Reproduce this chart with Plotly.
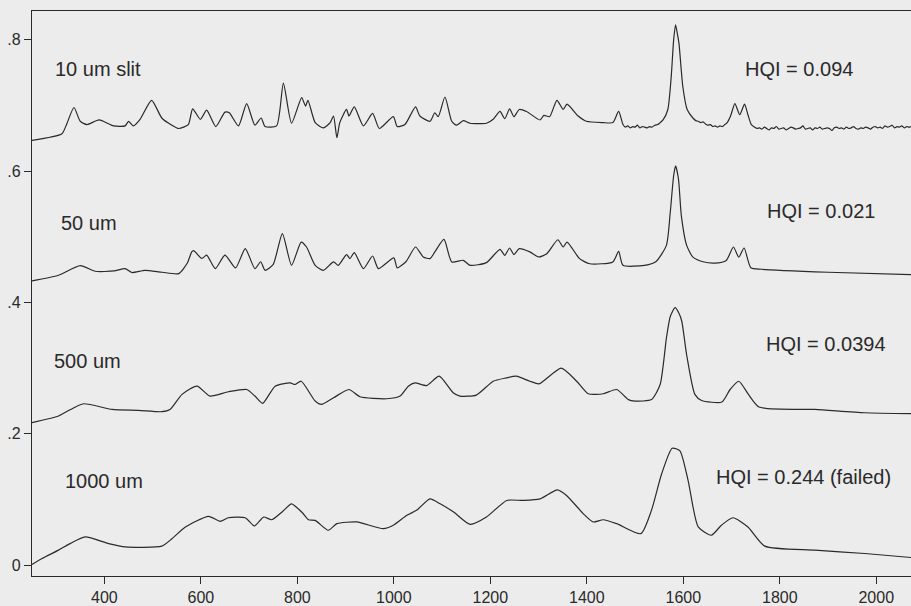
import plotly.graph_objects as go

# ---------------- data ----------------
x_10um = [250, 312, 322, 337, 350, 364, 389, 419, 443, 450, 460, 474, 498, 519, 540, 554, 574, 583, 599, 612,
          631, 650, 659, 678, 695, 712, 725, 733, 757, 771, 788, 809, 817, 822, 837, 854, 868, 875, 882, 888,
          902, 907, 918, 937, 956, 970, 999, 1007, 1023, 1045, 1054, 1075, 1085, 1092, 1106, 1120, 1130, 1144,
          1158, 1192, 1206, 1220, 1230, 1240, 1249, 1260, 1275, 1303, 1311, 1323, 1338, 1351, 1359, 1382, 1399,
          1434, 1454, 1466, 1475, 1480, 1485, 1490, 1495, 1500, 1505, 1510, 1515, 1520, 1525, 1530, 1535, 1541,
          1547, 1552, 1558, 1568, 1575, 1580, 1584, 1588, 1591, 1599, 1608, 1620, 1626, 1631, 1636, 1641, 1646,
          1651, 1656, 1661, 1666, 1671, 1676, 1681, 1686, 1691, 1698, 1707, 1717, 1727, 1734, 1741,
          1748, 1753, 1758, 1763, 1768, 1773, 1778, 1783, 1788, 1793,
          1798, 1803, 1808, 1813, 1818, 1823, 1828, 1833, 1838, 1843,
          1848, 1853, 1858, 1863, 1868, 1873, 1878, 1883, 1888, 1893,
          1898, 1903, 1908, 1913, 1918, 1923, 1928, 1933, 1938, 1943,
          1948, 1953, 1958, 1963, 1968, 1973, 1978, 1983, 1988, 1993,
          1998, 2003, 2008, 2013, 2018, 2023, 2028, 2033, 2038, 2043,
          2048, 2053, 2058, 2063, 2068, 2072]
y_10um = [.647, .657, .672, .697, .676, .671, .678, .669, .669, .676, .669, .679, .708, .681, .670, .665, .671, .695, .679, .693,
          .668, .690, .689, .669, .703, .670, .681, .668, .669, .734, .673, .712, .699, .708, .674, .666, .674, .684, .651, .674,
          .694, .684, .698, .669, .688, .665, .683, .668, .671, .698, .684, .676, .689, .683, .713, .676, .670, .677,
          .673, .673, .679, .691, .680, .695, .683, .694, .691, .678, .685, .683, .708, .694, .702, .684, .676,
          .674, .674, .691, .671, .667, .669, .666, .668, .667, .670, .666, .668, .667, .666, .668, .667, .670,
          .671, .674, .678, .694, .744, .800, .823, .808, .795, .729, .694, .681, .677, .676, .674, .675, .672,
          .670, .671, .668, .669, .667, .669, .668, .671, .674, .684, .703, .686, .702, .686, .671,
          .667, .665, .666, .664, .667, .665, .663, .666, .665, .668,
          .664, .665, .666, .663, .665, .667, .666, .664, .665, .666,
          .669, .664, .665, .666, .663, .666, .665, .667, .664, .665,
          .666, .665, .662, .666, .667, .665, .666, .664, .667, .665,
          .666, .668, .665, .664, .666, .665, .667, .666, .664, .667,
          .668, .666, .667, .665, .669, .667, .668, .670, .666, .668,
          .667, .669, .666, .668, .667, .668]

x_50um = [250, 305, 350, 381, 420, 443, 457, 484, 520, 554, 572, 581, 585, 602, 612, 630, 650, 672, 692, 712,
          724, 733, 750, 769, 788, 808, 819, 837, 854, 875, 885, 902, 909, 918, 937, 956, 968, 1000, 1007, 1025,
          1045, 1061, 1075, 1085, 1104, 1120, 1144, 1158, 1192, 1220, 1230, 1240, 1249, 1260, 1282, 1300, 1317,
          1340, 1351, 1359, 1385, 1406, 1454, 1466, 1475, 1520, 1543, 1565, 1573, 1580, 1584, 1590, 1596, 1607,
          1620, 1641, 1665, 1689, 1704, 1715, 1726, 1740, 1762, 1900, 2072]
y_50um = [.433, .4415, .456, .4475, .448, .4516, .4456, .449, .446, .444, .460, .477, .479, .467, .472, .4516, .472, .4527, .482, .4516,
          .462, .449, .458, .505, .4566, .492, .4845, .4566, .449, .4618, .4566, .473, .4668, .476, .4516, .4708, .4516, .468, .4527, .462,
          .4845, .4693, .4668, .477, .496, .4618, .4642, .4566, .4607, .481, .4718, .483, .473, .482, .477, .4693, .4743,
          .4955, .4845, .492, .4668, .459, .4618, .4778, .4566, .4566, .462, .487, .5375, .593, .608, .588, .532, .487,
          .469, .462, .460, .464, .4845, .469, .483, .453, .4506, .446, .4425]

x_500um = [250, 305, 330, 357, 416, 471, 519, 536, 561, 592, 619, 657, 695, 712, 728, 754, 785, 795, 808, 837,
           850, 875, 907, 930, 985, 1013, 1030, 1044, 1068, 1094, 1123, 1137, 1171, 1206, 1233, 1254, 1282, 1301,
           1347, 1379, 1403, 1434, 1462, 1486, 1500, 1534, 1552, 1565, 1573, 1583, 1591, 1597, 1607, 1624, 1638,
           1680, 1697, 1715, 1735, 1757, 1873, 1976, 2072]
y_500um = [.217, .227, .237, .2457, .237, .2356, .2336, .237, .260, .2725, .2574, .264, .2674, .2574, .2462, .2725, .2775, .275, .280, .2498,
           .2447, .2548, .2674, .2563, .2533, .2574, .2725, .2775, .2734, .2877, .2624, .2574, .2589, .280, .285, .2877, .280, .276,
           .300, .280, .2609, .2609, .2674, .252, .2498, .252, .275, .3456, .3785, .392, .3835, .371, .320, .260, .2507,
           .2483, .2674, .280, .260, .2407, .237, .232, .2306]

x_1000um = [250, 271, 305, 330, 360, 409, 443, 519, 540, 568, 616, 640, 657, 692, 711, 730, 747, 770, 788, 810,
            823, 837, 864, 882, 923, 978, 999, 1027, 1047, 1075, 1096, 1124, 1158, 1192, 1234, 1268, 1303, 1339,
            1358, 1393, 1413, 1434, 1462, 1512, 1534, 1555, 1577, 1593, 1610, 1631, 1658, 1679, 1703, 1734, 1769,
            1873, 1976, 2072]
y_1000um = [.001, .010, .0227, .033, .0428, .0327, .0277, .0288, .040, .058, .0742, .0666, .072, .072, .0595, .0731, .069, .082, .0933, .080,
            .069, .068, .053, .063, .0656, .0554, .0606, .0757, .0833, .1008, .0933, .0807, .062, .0731, .0984, .0984, .1008, .1145,
            .106, .078, .0656, .069, .063, .0478, .0833, .1387, .178, .174, .1287, .058, .0454, .0606, .072, .058, .0288,
            .0227, .0176, .0115]

x_ticks = [400, 600, 800, 1000, 1200, 1400, 1600, 1800, 2000]
y_ticks = [0, 0.2, 0.4, 0.6, 0.8]
y_tick_labels = ["0", ".2", ".4", ".6", ".8"]

series_labels = ["10 um slit", "50 um", "500 um", "1000 um"]
label_x = [293, 306, 291, 315]
label_y = [0.756, 0.521, 0.311, 0.128]
hqi_labels = ["HQI = 0.094", "HQI = 0.021", "HQI = 0.0394", "HQI = 0.244 (failed)"]
hqi_x = [1723, 1770, 1767, 1663]
hqi_y = [0.756, 0.539, 0.337, 0.134]

# ---------------- figure ----------------
ink = "#2a2a2a"
bg = "#ececec"
font_fam = "Arial, 'Liberation Sans', sans-serif"

fig = go.Figure()
for xs, ys in [(x_10um, y_10um), (x_50um, y_50um), (x_500um, y_500um), (x_1000um, y_1000um)]:
    fig.add_trace(go.Scatter(x=xs, y=ys, mode="lines",
                             line=dict(color=ink, width=1.2, shape="spline", smoothing=0.6),
                             showlegend=False, hoverinfo="skip"))

for t, xx, yy in zip(series_labels, label_x, label_y):
    fig.add_annotation(x=xx, y=yy, text=t, showarrow=False, xanchor="left", yanchor="middle",
                       font=dict(family=font_fam, size=20, color=ink))
for t, xx, yy in zip(hqi_labels, hqi_x, hqi_y):
    fig.add_annotation(x=xx, y=yy, text=t, showarrow=False, xanchor="left", yanchor="middle",
                       font=dict(family=font_fam, size=20, color=ink))

fig.update_layout(
    width=911, height=606, autosize=False,
    margin=dict(l=32, r=0, t=11, b=27, pad=0),
    paper_bgcolor=bg, plot_bgcolor=bg,
    font=dict(family=font_fam, size=16, color=ink),
    xaxis=dict(range=[250, 2072], tickvals=x_ticks, ticks="outside", ticklen=7, tickwidth=1.2,
               tickcolor=ink, showline=True, linecolor=ink, linewidth=1.2, mirror=True,
               showgrid=False, zeroline=False, tickfont=dict(size=16)),
    yaxis=dict(range=[-0.0167, 0.844], tickvals=y_ticks, ticktext=y_tick_labels, ticks="outside",
               ticklen=7, tickwidth=1.2, tickcolor=ink, showline=True, linecolor=ink, linewidth=1.2,
               showgrid=False, zeroline=False, tickfont=dict(size=16)),
)

fig.write_html("out.html")
